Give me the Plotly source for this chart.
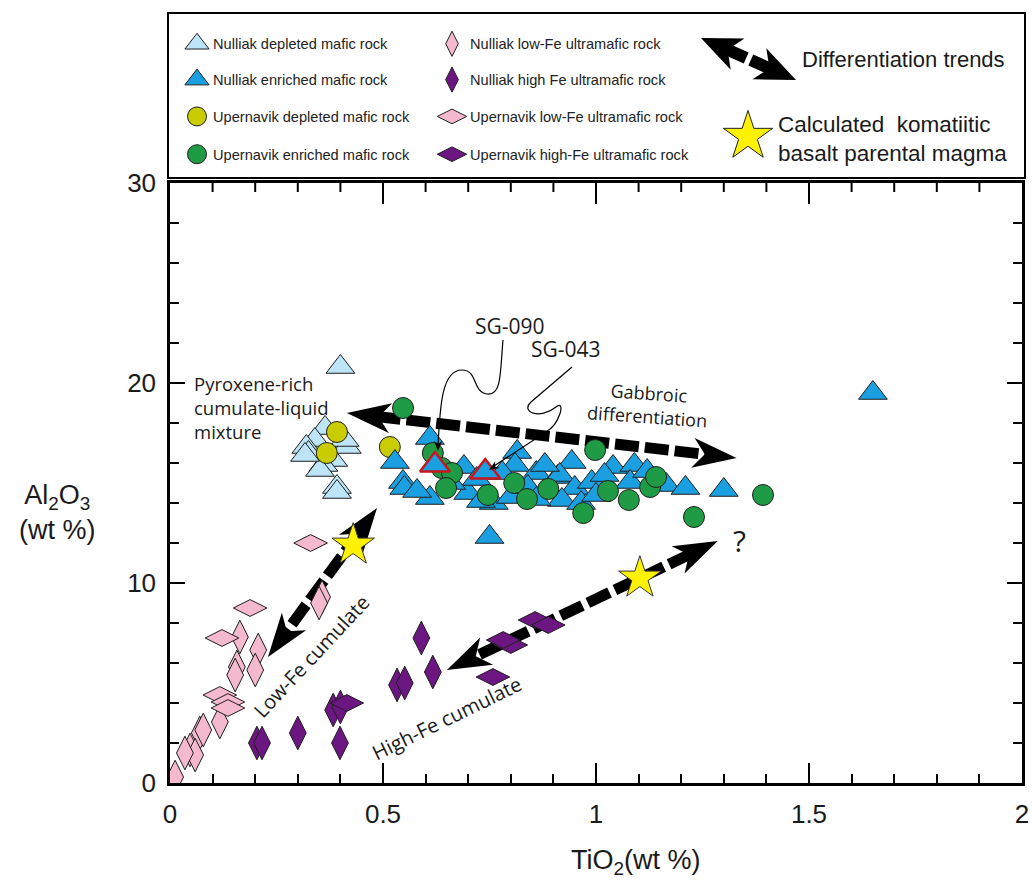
import math
import plotly.graph_objects as go

# ---------------------------------------------------------------------------
# Data: TiO2 vs Al2O3 (wt %)
# ---------------------------------------------------------------------------
nulliak_depleted_ti = [0.40, 0.364, 0.34, 0.32, 0.325, 0.415, 0.41, 0.383, 0.36, 0.352, 0.392, 0.392, 0.317]
nulliak_depleted_al = [20.8, 17.75, 17.15, 16.8, 16.5, 16.8, 17.15, 16.15, 15.9, 15.65, 14.8, 14.55, 16.4]

nulliak_enriched_ti = [0.61, 0.528, 0.547, 0.55, 0.61, 0.69, 0.70, 0.815, 0.81, 0.86, 0.91, 0.75, 0.76,
                       0.80, 0.943, 0.915, 0.95, 0.99, 1.04, 1.09, 1.08, 1.145, 1.165, 1.21, 1.30, 0.92,
                       0.965, 1.65, 0.72, 0.78, 0.84, 0.88, 0.66, 0.58, 1.02, 1.12, 0.73, 0.86, 1.00]
nulliak_enriched_al = [17.25, 16.05, 15.05, 14.75, 14.25, 15.8, 14.5, 16.55, 15.9, 15.5, 15.3, 12.3, 14.0,
                       14.3, 16.05, 15.4, 14.75, 15.05, 15.8, 15.9, 15.05, 15.05, 14.9, 14.75, 14.65, 14.15,
                       14.0, 19.5, 15.2, 15.5, 14.8, 15.9, 15.0, 14.6, 15.4, 15.6, 14.1, 14.2, 14.4]

upernavik_depleted_ti = [0.392, 0.368, 0.516]
upernavik_depleted_al = [17.55, 16.5, 16.8]

upernavik_enriched_ti = [0.547, 0.617, 0.638, 0.662, 0.648, 0.746, 0.808, 0.838, 0.888, 0.998, 1.028,
                         1.077, 0.97, 1.127, 1.141, 1.23, 1.392]
upernavik_enriched_al = [18.75, 16.5, 15.75, 15.5, 14.75, 14.4, 15.0, 14.2, 14.7, 16.65, 14.6,
                         14.15, 13.5, 14.8, 15.3, 13.3, 14.4]

# labelled samples (Nulliak enriched)
sample_names = ["SG-090", "SG-043"]
sample_ti = [0.622, 0.74]
sample_al = [15.9, 15.55]

nulliak_lowfe_ti = [0.357, 0.35, 0.164, 0.207, 0.157, 0.20, 0.153, 0.117, 0.07, 0.078, 0.047, 0.059, 0.035, 0.012]
nulliak_lowfe_al = [9.3, 9.0, 7.3, 6.65, 5.8, 5.65, 5.4, 3.05, 2.5, 2.65, 1.65, 1.4, 1.5, 0.3]

upernavik_lowfe_ti = [0.33, 0.188, 0.122, 0.117, 0.136, 0.136]
upernavik_lowfe_al = [12.0, 8.75, 7.25, 4.4, 4.05, 3.75]

nulliak_highfe_ti = [0.59, 0.617, 0.533, 0.551, 0.383, 0.40, 0.30, 0.204, 0.216, 0.399]
nulliak_highfe_al = [7.25, 5.55, 4.9, 5.0, 3.65, 3.8, 2.5, 2.0, 2.0, 2.0]

upernavik_highfe_ti = [0.758, 0.80, 0.782, 0.857, 0.888, 0.415]
upernavik_highfe_al = [5.3, 6.9, 7.15, 8.15, 7.9, 4.0]

parental_ti = [0.43, 1.103]
parental_al = [11.9, 10.25]

# differentiation trends (double-headed arrows, ends in TiO2 / Al2O3)
trend_start_ti = [0.415, 0.486, 1.286]
trend_start_al = [18.5, 13.75, 12.1]
trend_end_ti = [1.33, 0.23, 0.65]
trend_end_al = [16.25, 6.3, 5.65]

legend_labels = [
    "Nulliak depleted mafic rock", "Nulliak enriched mafic rock",
    "Upernavik depleted mafic rock", "Upernavik enriched mafic rock",
    "Nulliak low-Fe ultramafic rock", "Nulliak high Fe ultramafic rock",
    "Upernavik low-Fe ultramafic rock", "Upernavik high-Fe ultramafic rock",
]

# ---------------------------------------------------------------------------
# Layout geometry (pixels)
# ---------------------------------------------------------------------------
W, H = 1032, 882
PL, PR, PT, PB = 170, 1022, 183, 783
LEG_BOTTOM = 181
X_RANGE = [0, 2]
Y_RANGE = [0, 30]
XMAJ, XMIN, YMAJ, YMIN = 0.5, 0.1, 10, 2
SX = (PR - PL) / (X_RANGE[1] - X_RANGE[0])
SY = (PB - PT) / (Y_RANGE[1] - Y_RANGE[0])

C_LBLUE = "#bde4f7"
C_BLUE = "#1a9fe0"
C_YELLOW = "#c9cc00"
C_GREEN = "#1f9a45"
C_PINK = "#f4b8cf"
C_PURPLE = "#6c1682"
C_STAR = "#fff200"
C_RED = "#c8161e"
EDGE = "#1f1f1f"

TXT_FONT = "Open Sans"
AX_FONT = "Liberation Sans"


def to_px(x, y):
    return PL + x * SX, PB - y * SY


def to_data(px, py):
    return (px - PL) / SX, (PB - py) / SY


def to_paper(px, py):
    return px / W, 1 - py / H


def head_polygon(tip, tail, length, half_w, notch):
    dx, dy = tip[0] - tail[0], tip[1] - tail[1]
    d = math.hypot(dx, dy)
    ux, uy = dx / d, dy / d
    nx, ny = -uy, ux
    bx, by = tip[0] - ux * length, tip[1] - uy * length
    return [
        tip,
        (bx + nx * half_w, by + ny * half_w),
        (tip[0] - ux * (length - notch), tip[1] - uy * (length - notch)),
        (bx - nx * half_w, by - ny * half_w),
    ]


def poly_path(points):
    return "M " + " L ".join(f"{x:.5f},{y:.5f}" for x, y in points) + " Z"


def paper_path(commands):
    """commands: list of (letter, [(px, py), ...]) in pixel space."""
    parts = []
    for cmd, pts in commands:
        coords = " ".join("%.5f,%.5f" % to_paper(*p) for p in pts)
        parts.append(f"{cmd} {coords}")
    return " ".join(parts)


fig = go.Figure()
shapes = []
annotations = []

# ---- trend arrows: dashed shafts + solid heads ------------------------------
HEAD_L, HEAD_W, HEAD_N = 44, 15, 12
for sx, sy, ex, ey in zip(trend_start_ti, trend_start_al, trend_end_ti, trend_end_al):
    a = to_px(sx, sy)
    b = to_px(ex, ey)
    d = math.hypot(b[0] - a[0], b[1] - a[1])
    ux, uy = (b[0] - a[0]) / d, (b[1] - a[1]) / d
    inset = HEAD_L - HEAD_N - 2
    s0 = to_data(a[0] + ux * inset, a[1] + uy * inset)
    s1 = to_data(b[0] - ux * inset, b[1] - uy * inset)
    fig.add_trace(go.Scatter(
        x=[s0[0], s1[0]], y=[s0[1], s1[1]], mode="lines",
        line=dict(color="black", width=11, dash="24px,6px"),
        hoverinfo="skip"))
    for tip, tail in ((a, b), (b, a)):
        poly = [to_data(px, py) for px, py in head_polygon(tip, tail, HEAD_L, HEAD_W, HEAD_N)]
        shapes.append(dict(type="path", xref="x", yref="y", path=poly_path(poly),
                           fillcolor="black", line=dict(width=0), layer="below"))


def add_points(xs, ys, symbol, color, size, edge=EDGE, edge_w=1):
    fig.add_trace(go.Scatter(
        x=xs, y=ys, mode="markers",
        marker=dict(symbol=symbol, color=color, size=size, opacity=1,
                    line=dict(color=edge, width=edge_w)),
        hoverinfo="x+y"))


add_points(nulliak_depleted_ti, nulliak_depleted_al, "triangle-up", C_LBLUE, 25)
add_points(upernavik_depleted_ti, upernavik_depleted_al, "circle", C_YELLOW, 21)
add_points(nulliak_enriched_ti, nulliak_enriched_al, "triangle-up", C_BLUE, 25)
add_points(upernavik_enriched_ti, upernavik_enriched_al, "circle", C_GREEN, 21)
add_points(sample_ti, sample_al, "triangle-up", C_BLUE, 26, edge=C_RED, edge_w=2.5)
add_points(nulliak_lowfe_ti, nulliak_lowfe_al, "diamond-tall", C_PINK, 24)
add_points(upernavik_lowfe_ti, upernavik_lowfe_al, "diamond-wide", C_PINK, 24)
add_points(nulliak_highfe_ti, nulliak_highfe_al, "diamond-tall", C_PURPLE, 24)
add_points(upernavik_highfe_ti, upernavik_highfe_al, "diamond-wide", C_PURPLE, 24)
add_points(parental_ti, parental_al, "star", C_STAR, 32, edge="#333333", edge_w=1)

# ---- inward ticks on the top and right frame edges ---------------------------
top_paper = 1 - PT / H
right_paper = PR / W
n_x = int(round((X_RANGE[1] - X_RANGE[0]) / XMIN))
for i in range(1, n_x):
    v = X_RANGE[0] + i * XMIN
    major = abs(v / XMAJ - round(v / XMAJ)) < 1e-6
    ln = 21 if major else 9
    shapes.append(dict(type="line", xref="x", yref="paper", x0=v, x1=v,
                       y0=top_paper, y1=top_paper - ln / H,
                       line=dict(color="black", width=2)))
n_y = int(round((Y_RANGE[1] - Y_RANGE[0]) / YMIN))
for i in range(1, n_y):
    v = Y_RANGE[0] + i * YMIN
    major = v % YMAJ == 0
    ln = 15 if major else 9
    shapes.append(dict(type="line", xref="paper", yref="y", x0=right_paper,
                       x1=right_paper - ln / W, y0=v, y1=v,
                       line=dict(color="black", width=2)))

# ---- leader lines for the labelled samples ---------------------------------
leader_curves = [
    [("M", [(503, 340)]), ("C", [(500, 372), (502, 396), (487, 394)]),
     ("C", [(472, 392), (478, 370), (462, 370)]), ("C", [(442, 370), (440, 405), (438, 446)])],
    [("M", [(572, 367)]), ("L", [(531, 402)]), ("C", [(520, 412), (540, 420), (556, 407)]),
     ("C", [(566, 399), (560, 424), (546, 432)]), ("L", [(494, 466)])],
]
leader_tips = [((438, 451), (438, 420)), ((489, 470), (520, 450))]
for cmds in leader_curves:
    shapes.append(dict(type="path", xref="paper", yref="paper", path=paper_path(cmds),
                       line=dict(color="black", width=1.2)))
for tip, tail in leader_tips:
    pts = [to_paper(*p) for p in head_polygon(tip, tail, 10, 4, 3)]
    shapes.append(dict(type="path", xref="paper", yref="paper", path=poly_path(pts),
                       fillcolor="black", line=dict(width=0)))

# ---- legend panel -----------------------------------------------------------
bx0, by0 = to_paper(168, 13)
bx1, by1 = to_paper(1025, 178)
shapes.append(dict(type="rect", xref="paper", yref="paper", x0=bx0, y0=by1, x1=bx1, y1=by0,
                   line=dict(color="black", width=2), fillcolor="rgba(0,0,0,0)"))

row_y = [44, 80, 117, 155]
col_marker_x = [197, 452]
col_text_x = [211, 468]
leg_symbols = ["triangle-up", "triangle-up", "circle", "circle",
               "diamond-tall", "diamond-tall", "diamond-wide", "diamond-wide"]
leg_colors = [C_LBLUE, C_BLUE, C_YELLOW, C_GREEN, C_PINK, C_PURPLE, C_PINK, C_PURPLE]
leg_sizes = [21, 21, 19, 19, 18, 18, 21, 21]
leg_x = [col_marker_x[i // 4] for i in range(8)] + [748]
leg_y = [row_y[i % 4] for i in range(8)] + [137]
leg_symbols.append("star")
leg_colors.append(C_STAR)
leg_sizes.append(37)
# legend markers live on a pixel-scaled helper axis pair over the legend strip
fig.add_trace(go.Scatter(
    x=leg_x, y=leg_y, mode="markers", xaxis="x2", yaxis="y2",
    marker=dict(symbol=leg_symbols, color=leg_colors, size=leg_sizes, opacity=1,
                line=dict(color=EDGE, width=1)),
    hoverinfo="skip"))

for i, lab in enumerate(legend_labels):
    x, y = to_paper(col_text_x[i // 4], row_y[i % 4])
    annotations.append(dict(xref="paper", yref="paper", x=x, y=y,
                            text=lab, showarrow=False, xanchor="left", yanchor="middle",
                            font=dict(family=AX_FONT, size=14.6, color="#222222")))

# legend double arrow
la, lb = (701, 38), (796, 80)
for tip, tail in ((la, lb), (lb, la)):
    pts = [to_paper(*p) for p in head_polygon(tip, tail, 40, 17, 11)]
    shapes.append(dict(type="path", xref="paper", yref="paper", path=poly_path(pts),
                       fillcolor="black", line=dict(width=0)))
lmid = ((la[0] + lb[0]) / 2, (la[1] + lb[1]) / 2)
ld = math.hypot(lb[0] - la[0], lb[1] - la[1])
lux, luy = (lb[0] - la[0]) / ld, (lb[1] - la[1]) / ld
for s, e in (((la[0] + lux * 28, la[1] + luy * 28), (lmid[0] - lux * 2.5, lmid[1] - luy * 2.5)),
             ((lmid[0] + lux * 2.5, lmid[1] + luy * 2.5), (lb[0] - lux * 28, lb[1] - luy * 28))):
    p0, p1 = to_paper(*s), to_paper(*e)
    shapes.append(dict(type="line", xref="paper", yref="paper", x0=p0[0], y0=p0[1],
                       x1=p1[0], y1=p1[1], line=dict(color="black", width=12)))


def label(px, py, text, size, angle=0, xanchor="center", align="center", family=TXT_FONT):
    x, y = to_paper(px, py)
    annotations.append(dict(xref="paper", yref="paper", x=x, y=y, text=text, showarrow=False,
                            xanchor=xanchor, yanchor="middle", align=align, textangle=angle,
                            font=dict(family=family, size=size, color="#1a1a1a")))


label(800, 59, "Differentiation trends", 22, xanchor="left", family=AX_FONT)
label(776, 139, "Calculated  komatiitic<br>basalt parental magma", 22.5,
      xanchor="left", align="left", family=AX_FONT)

# ---- in-plot labels -----------------------------------------------------------
label(192, 407, "Pyroxene-rich<br>cumulate-liquid<br>mixture", 18.5, xanchor="left", align="left")
label(648, 405, "Gabbroic<br>differentiation", 18, angle=4)
label(510, 326, "SG-090", 21)
label(566, 349, "SG-043", 21)
label(311, 656, "Low-Fe cumulate", 20, angle=-47)
label(446, 718, "High-Fe cumulate", 20, angle=-26)
label(739, 540, "?", 30)

# axis titles
label(57, 512, "Al<sub>2</sub>O<sub>3</sub><br>(wt %)", 27, family=AX_FONT)
label(636, 862, "TiO<sub>2</sub>(wt %)", 27, family=AX_FONT)

axis_common = dict(
    showline=True, linecolor="black", linewidth=2.5, mirror=True,
    ticks="inside", tickcolor="black", tickwidth=2, showgrid=False, zeroline=False,
    tickfont=dict(family=AX_FONT, size=26, color="#1a1a1a"),
    ticklabelstandoff=6, automargin=False,
)

fig.update_layout(
    width=W, height=H,
    margin=dict(l=0, r=0, t=0, b=0, pad=0),
    plot_bgcolor="white", paper_bgcolor="white",
    showlegend=False,
    xaxis=dict(domain=[PL / W, PR / W], range=X_RANGE, dtick=XMAJ, ticklen=20,
               minor=dict(dtick=XMIN, ticks="inside", ticklen=9, tickwidth=2, tickcolor="black"),
               anchor="y", **axis_common),
    yaxis=dict(domain=[(H - PB) / H, (H - PT) / H], range=Y_RANGE, dtick=YMAJ, ticklen=15,
               minor=dict(dtick=YMIN, ticks="inside", ticklen=9, tickwidth=2, tickcolor="black"),
               anchor="x", **axis_common),
    xaxis2=dict(domain=[0, 1], range=[0, W], visible=False, anchor="y2", fixedrange=True,
                automargin=False),
    yaxis2=dict(domain=[1 - LEG_BOTTOM / H + 0.001, 1], range=[LEG_BOTTOM, 0], visible=False,
                anchor="x2", fixedrange=True, automargin=False),
    shapes=shapes,
    annotations=annotations,
)

fig.write_html("out.html")
